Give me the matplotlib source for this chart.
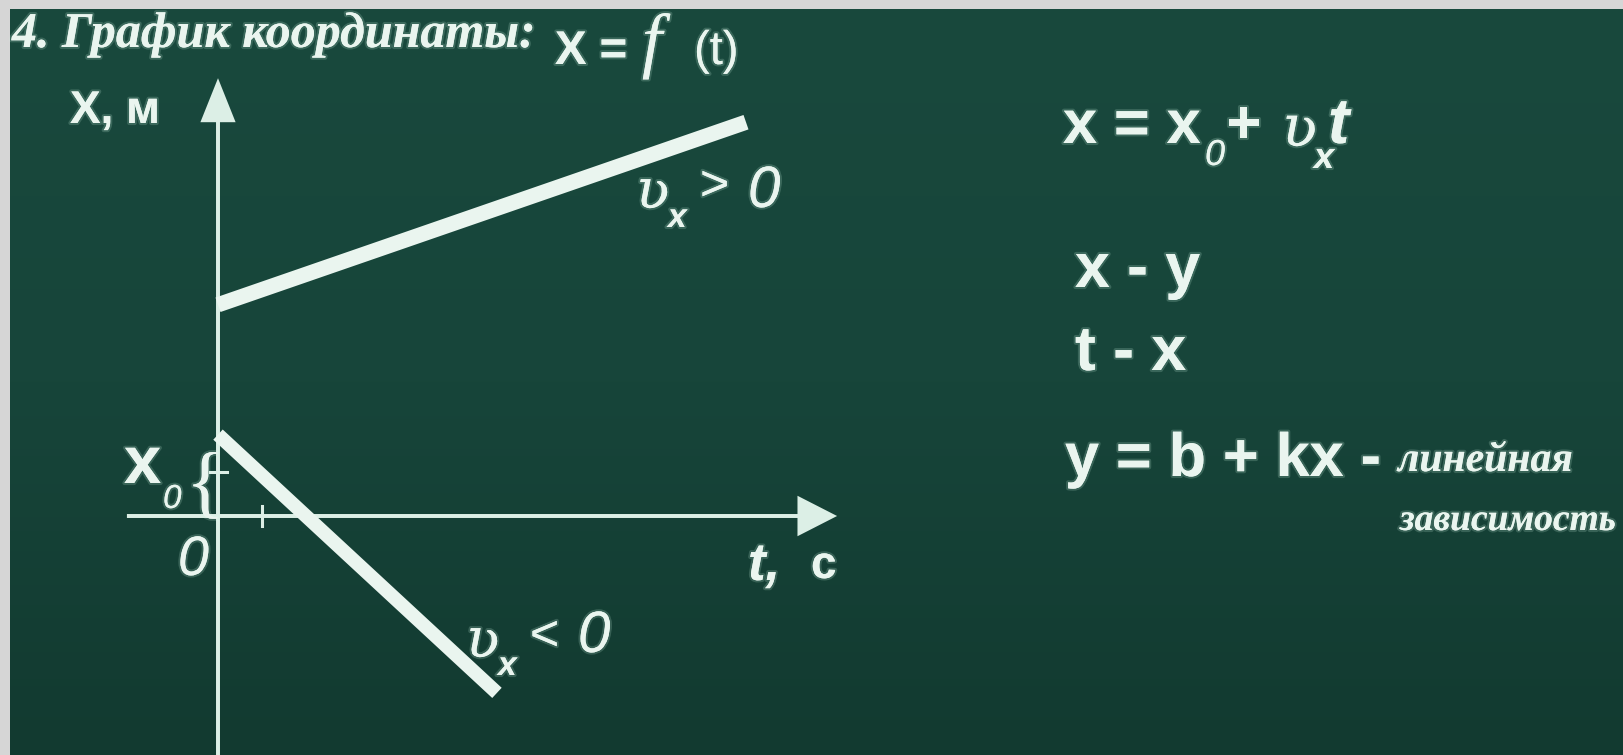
import numpy as np
import matplotlib.pyplot as plt
from matplotlib import patheffects as pe
from matplotlib.colors import LinearSegmentedColormap

W, H = 1624, 755

# x(t) = x0 + vx*t for the two cases
t_up = [0.0, 12.0]
x_up = [4.8, 8.95]
t_down = [0.0, 6.34]
x_down = [1.85, -4.02]

# unit marks on both axes
tick_t = 1
tick_x = 1

title = '4. График координаты:'
rows = ['x - y', 't - x']
note_1 = 'линейная'
note_2 = 'зависимость'

chalk = '#eaf5ef'
glow = [pe.withStroke(linewidth=3, foreground=(0.85, 1.0, 0.93, 0.18))]

fig = plt.figure(figsize=(W / 100, H / 100), dpi=100)
fig.patch.set_facecolor('#d6d6d6')

# board background
bg = fig.add_axes([10 / W, 0, 1 - 10 / W, 1 - 9 / H])
board = LinearSegmentedColormap.from_list('board', ['#19493d', '#17453a', '#123a30'])
bg.imshow(np.linspace(0, 1, 256).reshape(-1, 1), aspect='auto', cmap=board)
bg.axis('off')

# graph axes: origin at pixel (218, 516), 44 px per unit
ox, oy, unit = 218, 516, 44
ax = fig.add_axes([0, 0, 1, 1])
ax.set_xlim(-ox / unit, (W - ox) / unit)
ax.set_ylim(-(H - oy) / unit, oy / unit)
ax.patch.set_alpha(0)
ax.axis('off')

ax.arrow(-2.07, 0, 16.14, 0, width=0.09, head_width=0.92, head_length=0.9,
         length_includes_head=True, color='#dcefe6', lw=0)
ax.arrow(0, -5.6, 0, 15.55, width=0.09, head_width=0.8, head_length=1.0,
         length_includes_head=True, color='#dcefe6', lw=0)
ax.plot([tick_t, tick_t], [-0.23, 0.23], color='#dcefe6', lw=2.2)
ax.plot([-0.18, 0.2], [tick_x, tick_x], color='#dcefe6', lw=2.2)

ax.plot(t_up, x_up, color=chalk, lw=11, solid_capstyle='butt')
ax.plot(t_down, x_down, color=chalk, lw=10, solid_capstyle='butt')


def put(x, y, s, size, **kw):
    kw.setdefault('family', 'Liberation Sans')
    fig.text(x / W, 1 - y / H, s, fontsize=size, color=chalk,
             ha='left', va='baseline', path_effects=glow, **kw)


# heading
put(12, 47, title, 36, family='Liberation Serif', style='italic', weight='bold')
put(555, 64, 'X =', 34, weight='bold')
put(642, 64, 'f', 52, family='Liberation Serif', style='italic')
put(694, 64, '(t)', 34)

# axis labels
put(70, 123, 'X, м', 33, weight='bold')
put(748, 580, 't,', 38, style='italic', weight='bold')
put(811, 578, 'c', 33, weight='bold')
put(178, 575, '0', 40, style='italic')
put(124, 483, 'x', 48, weight='bold')
put(163, 508, '0', 24, style='italic')
put(186, 508, '{', 58, family='Liberation Serif')

# velocity labels
put(636, 208, 'ʋ', 40, family='DejaVu Serif', style='italic')
put(668, 227, 'x', 24, style='italic', weight='bold')
put(700, 200, '>', 36)
put(748, 207, '0', 42, style='italic')

put(466, 657, 'ʋ', 40, family='DejaVu Serif', style='italic')
put(498, 675, 'x', 24, style='italic', weight='bold')
put(530, 650, '<', 36)
put(578, 652, '0', 42, style='italic')

# formulas on the right
put(1063, 143, 'x = x', 44, weight='bold')
put(1205, 165, '0', 26, style='italic')
put(1226, 143, '+', 44, weight='bold')
put(1282, 146, 'ʋ', 42, family='DejaVu Serif', style='italic')
put(1314, 168, 'x', 26, style='italic', weight='bold')
put(1328, 143, 't', 46, style='italic', weight='bold')

put(1075, 287, rows[0], 45, weight='bold')
put(1075, 370, rows[1], 45, weight='bold')
put(1065, 476, 'y = b + kx -', 44, weight='bold')
put(1398, 471, note_1, 30, family='Liberation Serif', style='italic', weight='bold')
put(1400, 530, note_2, 27, family='Liberation Serif', style='italic', weight='bold')

fig.savefig('out.png', dpi=100, facecolor=fig.get_facecolor())
